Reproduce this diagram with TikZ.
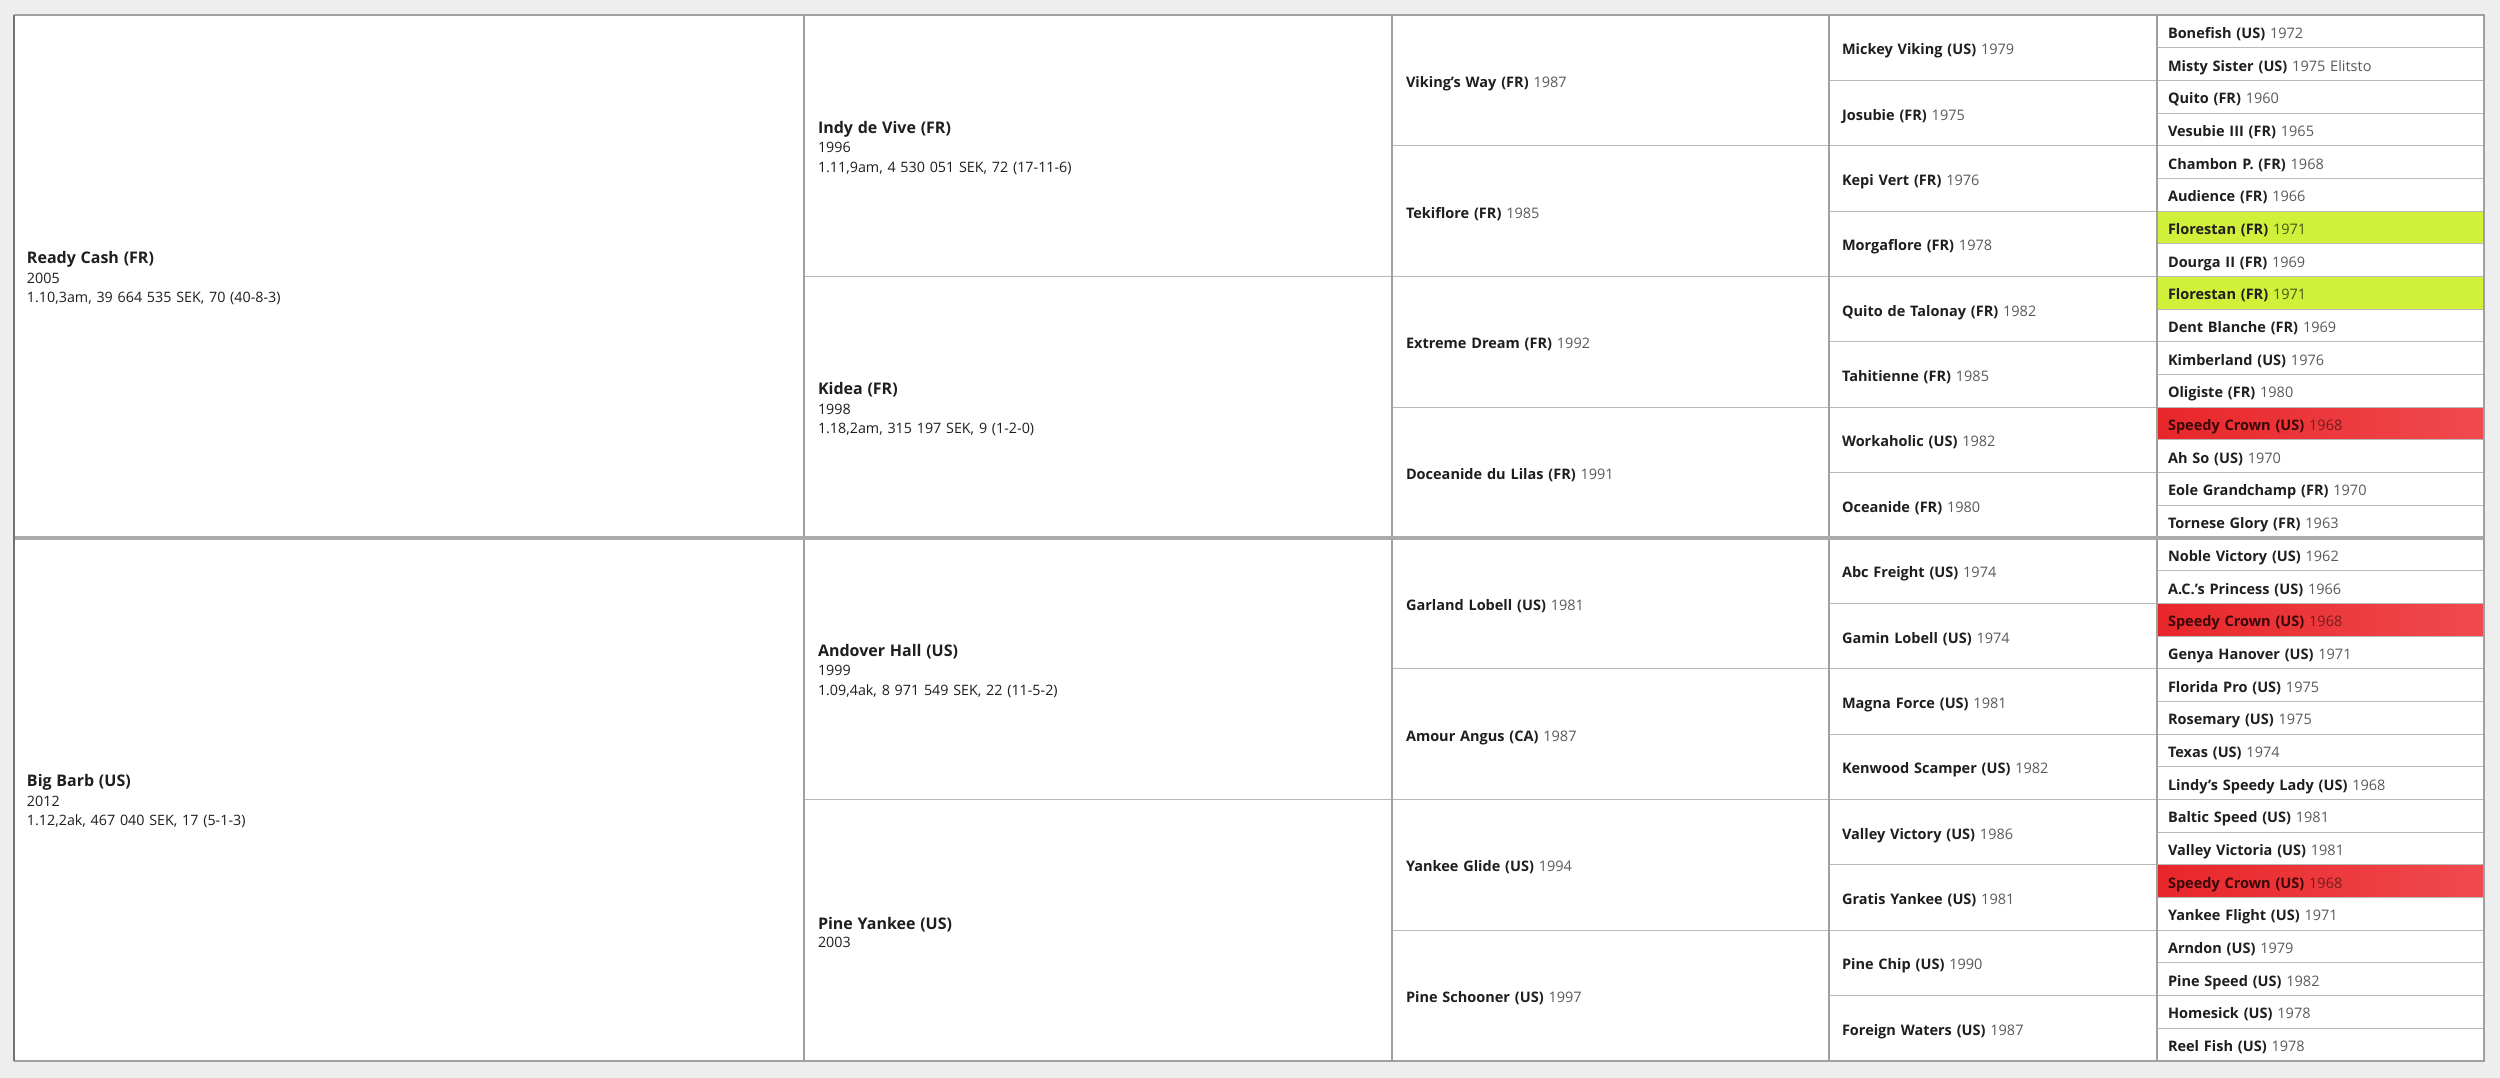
\documentclass[tikz,border=0pt]{standalone}
\usepackage{fontspec}
\setmainfont{Open Sans}
\definecolor{bgc}{HTML}{EEEEEE}
\definecolor{linec}{HTML}{B8B8B8}
\definecolor{vlinec}{HTML}{A0A0A0}
\definecolor{midc}{HTML}{ABABAB}
\definecolor{yearc}{HTML}{5A5A5A}
\definecolor{namec}{HTML}{1E1E1E}
\definecolor{limec}{HTML}{D0F03A}
\definecolor{redl}{HTML}{E8262A}
\definecolor{redr}{HTML}{F04A4E}
\definecolor{redname}{HTML}{3A0808}
\definecolor{redyear}{HTML}{761C1C}
\definecolor{limeyear}{HTML}{4A5618}
\newcommand\bigname{\fontsize{16}{19.5}\selectfont\rule{0pt}{16pt}}
\newcommand\bigdet{\fontsize{14.3}{19.5}\selectfont}
\newcommand\smalltxt{\fontsize{14.5}{17}\selectfont}
\begin{document}
\begin{tikzpicture}[x=1pt,y=-1pt,
  cellbase/.style={draw=linec, line width=1pt, anchor=north west, outer sep=0pt,
    inner ysep=0pt, align=left, text=namec},
  ca/.style={cellbase, font=\bigdet, minimum width=790pt, minimum height=523pt, text width=764pt, inner xsep=13pt},
  cb/.style={cellbase, font=\bigdet, minimum width=588pt, minimum height=261.5pt, text width=560pt, inner xsep=14pt},
  oneline/.style={font=\smalltxt, text height=14pt, text depth=0pt},
  cc/.style={cellbase, oneline, minimum width=437pt, minimum height=130.75pt, text width=409pt, inner xsep=14pt},
  cd/.style={cellbase, oneline, minimum width=328pt, minimum height=65.375pt, text width=302pt, inner xsep=13pt},
  ce/.style={cellbase, oneline, minimum width=327pt, minimum height=32.6875pt, text width=305pt, inner xsep=11pt},
  wcell/.style={fill=white},
  gcell/.style={fill=limec, execute at begin node={\colorlet{yearc}{limeyear}}},
  rcell/.style={left color=redl, right color=redr, text=redname,
    execute at begin node={\colorlet{yearc}{redyear}}}]
\fill[bgc] (0,0) rectangle (2500,1078);
\useasboundingbox (0,0) rectangle (2500,1078);

% generation 1
\node[ca, fill=white] (g1-0) at (14,15) {{\bigname\textbf{Ready Cash (FR)}}\\ 2005\\ 1.10,3am, 39 664 535 SEK, 70 (40-8-3)};
\node[ca, fill=white] (g1-1) at (14,538) {{\bigname\textbf{Big Barb (US)}}\\ 2012\\ 1.12,2ak, 467 040 SEK, 17 (5-1-3)};

% generation 2
\node[cb, fill=white] (g2-0) at (804,15) {{\bigname\textbf{Indy de Vive (FR)}}\\ 1996\\ 1.11,9am, 4 530 051 SEK, 72 (17-11-6)};
\node[cb, fill=white] (g2-1) at (804,276.5) {{\bigname\textbf{Kidea (FR)}}\\ 1998\\ 1.18,2am, 315 197 SEK, 9 (1-2-0)};
\node[cb, fill=white] (g2-2) at (804,538) {{\bigname\textbf{Andover Hall (US)}}\\ 1999\\ 1.09,4ak, 8 971 549 SEK, 22 (11-5-2)};
\node[cb, fill=white] (g2-3) at (804,799.5) {{\bigname\textbf{Pine Yankee (US)}}\\[-1.2pt] 2003};

% generation 3
\foreach \nm/\yy [count=\i from 0] in {Viking's Way (FR)/1987, Tekiflore (FR)/1985, Extreme Dream (FR)/1992, Doceanide du Lilas (FR)/1991, Garland Lobell (US)/1981, Amour Angus (CA)/1987, Yankee Glide (US)/1994, Pine Schooner (US)/1997}
  \node[cc, fill=white] (g3-\i) at (1392,{15+\i*130.75}) {\textbf{\nm} {\color{yearc}\yy}};

% generation 4
\foreach \nm/\yy [count=\i from 0] in {Mickey Viking (US)/1979, Josubie (FR)/1975, Kepi Vert (FR)/1976, Morgaflore (FR)/1978, Quito de Talonay (FR)/1982, Tahitienne (FR)/1985, Workaholic (US)/1982, Oceanide (FR)/1980, Abc Freight (US)/1974, Gamin Lobell (US)/1974, Magna Force (US)/1981, Kenwood Scamper (US)/1982, Valley Victory (US)/1986, Gratis Yankee (US)/1981, Pine Chip (US)/1990, Foreign Waters (US)/1987}
  \node[cd, fill=white] (g4-\i) at (1829,{15+\i*65.375}) {\textbf{\nm} {\color{yearc}\yy}};

% generation 5
\foreach \nm/\yy/\st [count=\i from 0] in {
  Bonefish (US)/1972/wcell, Misty Sister (US)/1975 Elitsto/wcell, Quito (FR)/1960/wcell, Vesubie III (FR)/1965/wcell,
  Chambon P. (FR)/1968/wcell, Audience (FR)/1966/wcell, Florestan (FR)/1971/gcell, Dourga II (FR)/1969/wcell,
  Florestan (FR)/1971/gcell, Dent Blanche (FR)/1969/wcell, Kimberland (US)/1976/wcell, Oligiste (FR)/1980/wcell,
  Speedy Crown (US)/1968/rcell, Ah So (US)/1970/wcell, Eole Grandchamp (FR)/1970/wcell, Tornese Glory (FR)/1963/wcell,
  Noble Victory (US)/1962/wcell, A.C.'s Princess (US)/1966/wcell, Speedy Crown (US)/1968/rcell, Genya Hanover (US)/1971/wcell,
  Florida Pro (US)/1975/wcell, Rosemary (US)/1975/wcell, Texas (US)/1974/wcell, Lindy's Speedy Lady (US)/1968/wcell,
  Baltic Speed (US)/1981/wcell, Valley Victoria (US)/1981/wcell, Speedy Crown (US)/1968/rcell, Yankee Flight (US)/1971/wcell,
  Arndon (US)/1979/wcell, Pine Speed (US)/1982/wcell, Homesick (US)/1978/wcell, Reel Fish (US)/1978/wcell}
  \node[ce, \st] (g5-\i) at (2157,{15+\i*32.6875}) {\textbf{\nm} {\color{yearc}\yy}};

% column separators (slightly darker)
\foreach \c in {g2-0, g3-0, g4-0, g5-0}
  \draw[vlinec, line width=1.2pt] (\c.north west) -- (\c.north west |- g1-1.south);

% middle divider
\draw[midc, line width=4pt] (g1-1.north west) -- (g1-1.north west -| g5-16.east);

% outer frame
\draw[vlinec, line width=2pt] (g1-0.north west) -- (g5-0.north east) -- (g5-31.south east) -- (g1-1.south west);
\draw[black!55, line width=2pt] (g1-0.north west) -- (g1-1.south west);
\end{tikzpicture}
\end{document}
